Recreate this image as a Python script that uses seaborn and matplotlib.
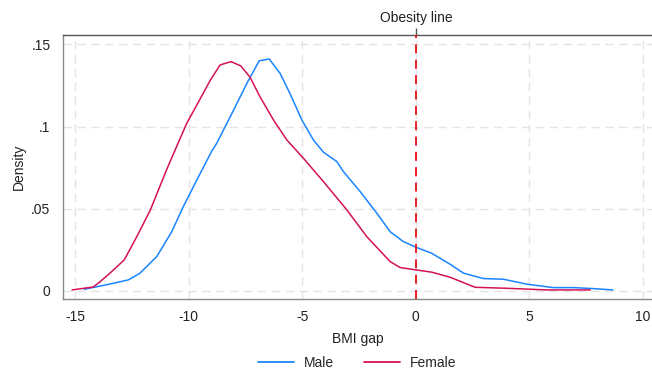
import pandas as pd
import matplotlib.pyplot as plt
import seaborn as sns

# density curves (BMI gap vs density)
male_x = [-14.6, -13.6, -12.66, -12.15, -11.41, -10.75, -10.24, -9.72, -8.99, -8.77, -8.1, -7.44,
          -6.9, -6.46, -5.98, -5.54, -5.02, -4.51, -4.07, -3.48, -3.19, -2.45, -1.72, -1.13,
          -0.55, 0.0, 0.7, 1.51, 2.1, 2.98, 3.86, 4.89, 6.06, 6.94, 7.82, 8.68]
male_y = [0.0010, 0.0038, 0.0067, 0.0108, 0.0209, 0.0360, 0.0513, 0.0655, 0.0850, 0.0898, 0.108, 0.1263,
          0.140, 0.1411, 0.1324, 0.120, 0.104, 0.0918, 0.0844, 0.0787, 0.0726, 0.0604, 0.0473, 0.036,
          0.030, 0.0266, 0.0229, 0.0162, 0.0108, 0.0075, 0.0071, 0.0041, 0.0020, 0.0020, 0.0014, 0.0006]

female_x = [-15.14, -14.2, -13.9, -13.47, -12.84, -12.29, -11.7, -10.98, -10.6, -10.09, -9.65, -9.06,
            -8.62, -8.14, -7.71, -7.3, -6.86, -6.27, -5.68, -4.95, -4.07, -3.04, -2.16, -1.13, -0.69,
            0.0, 0.7, 1.51, 2.61, 4.0, 5.77, 7.68]
female_y = [0.0006, 0.0024, 0.0057, 0.0108, 0.0189, 0.033, 0.049, 0.0736, 0.0858, 0.102, 0.113, 0.128,
            0.1375, 0.1395, 0.1369, 0.130, 0.118, 0.104, 0.0918, 0.0807, 0.0665, 0.0493, 0.033, 0.0178,
            0.0142, 0.0128, 0.0114, 0.0083, 0.0022, 0.0016, 0.0006, 0.0006]

x_ticks = [-15, -10, -5, 0, 5, 10]
y_ticks = [0, 0.05, 0.1, 0.15]
y_labels = ['0', '.05', '.1', '.15']

df = pd.concat([
    pd.DataFrame({'gap': male_x, 'density': male_y, 'sex': 'Male'}),
    pd.DataFrame({'gap': female_x, 'density': female_y, 'sex': 'Female'}),
])

sns.set_style('white')
plt.rcParams['font.family'] = ['Liberation Sans', 'DejaVu Sans']
plt.rcParams['font.size'] = 10

fig = plt.figure(figsize=(6.52, 3.70), dpi=100)
ax = fig.add_axes([0.0966, 0.192, 0.9034, 0.7134])

sns.lineplot(data=df, x='gap', y='density', hue='sex', sort=False, estimator=None,
             palette={'Male': '#1a85ff', 'Female': '#d41159'}, linewidth=1.1, ax=ax, legend=False)

ax.axvline(0, color='#e8101a', linestyle=(0, (5, 3.5)), linewidth=1.3, zorder=3)

ax.set_xlim(-15.54, 10.4)
ax.set_ylim(-0.0049, 0.1557)
ax.set_xticks(x_ticks)
ax.set_xticklabels([str(t) for t in x_ticks])
ax.set_yticks(y_ticks)
ax.set_yticklabels(y_labels)
ax.grid(True, color='#e4e4e4', linestyle=(0, (6, 4)), linewidth=1.0)
ax.set_axisbelow(True)

ax.spines['right'].set_visible(False)
ax.spines['left'].set_color('#8a8a8a')
ax.spines['bottom'].set_color('#8a8a8a')
ax.spines['top'].set_color('#555555')
for s in ['left', 'bottom', 'top']:
    ax.spines[s].set_linewidth(1.0)
ax.tick_params(axis='both', direction='out', length=5, width=1, color='#8a8a8a',
               labelsize=10, labelcolor='#222222', pad=3)
ax.tick_params(axis='y', length=6)

ax.set_xlabel('BMI gap', fontsize=10, color='#222222', labelpad=6)
ax.set_ylabel('Density', fontsize=10, color='#222222', labelpad=4)

top = ax.secondary_xaxis('top')
top.set_xticks([0])
top.set_xticklabels(['Obesity line'])
top.tick_params(direction='out', length=5, width=1, color='#555555', labelsize=10,
                labelcolor='#222222', pad=2)
top.spines['top'].set_visible(False)

handles = [plt.Line2D([], [], color='#1a85ff', linewidth=1.3),
           plt.Line2D([], [], color='#d41159', linewidth=1.3)]
fig.legend(handles, ['Male', 'Female'], loc='center', bbox_to_anchor=(0.548, 0.02),
           ncol=2, frameon=False, fontsize=10, handlelength=2.6, columnspacing=2.2, handletextpad=0.7)

fig.savefig('out.png', dpi=100)
